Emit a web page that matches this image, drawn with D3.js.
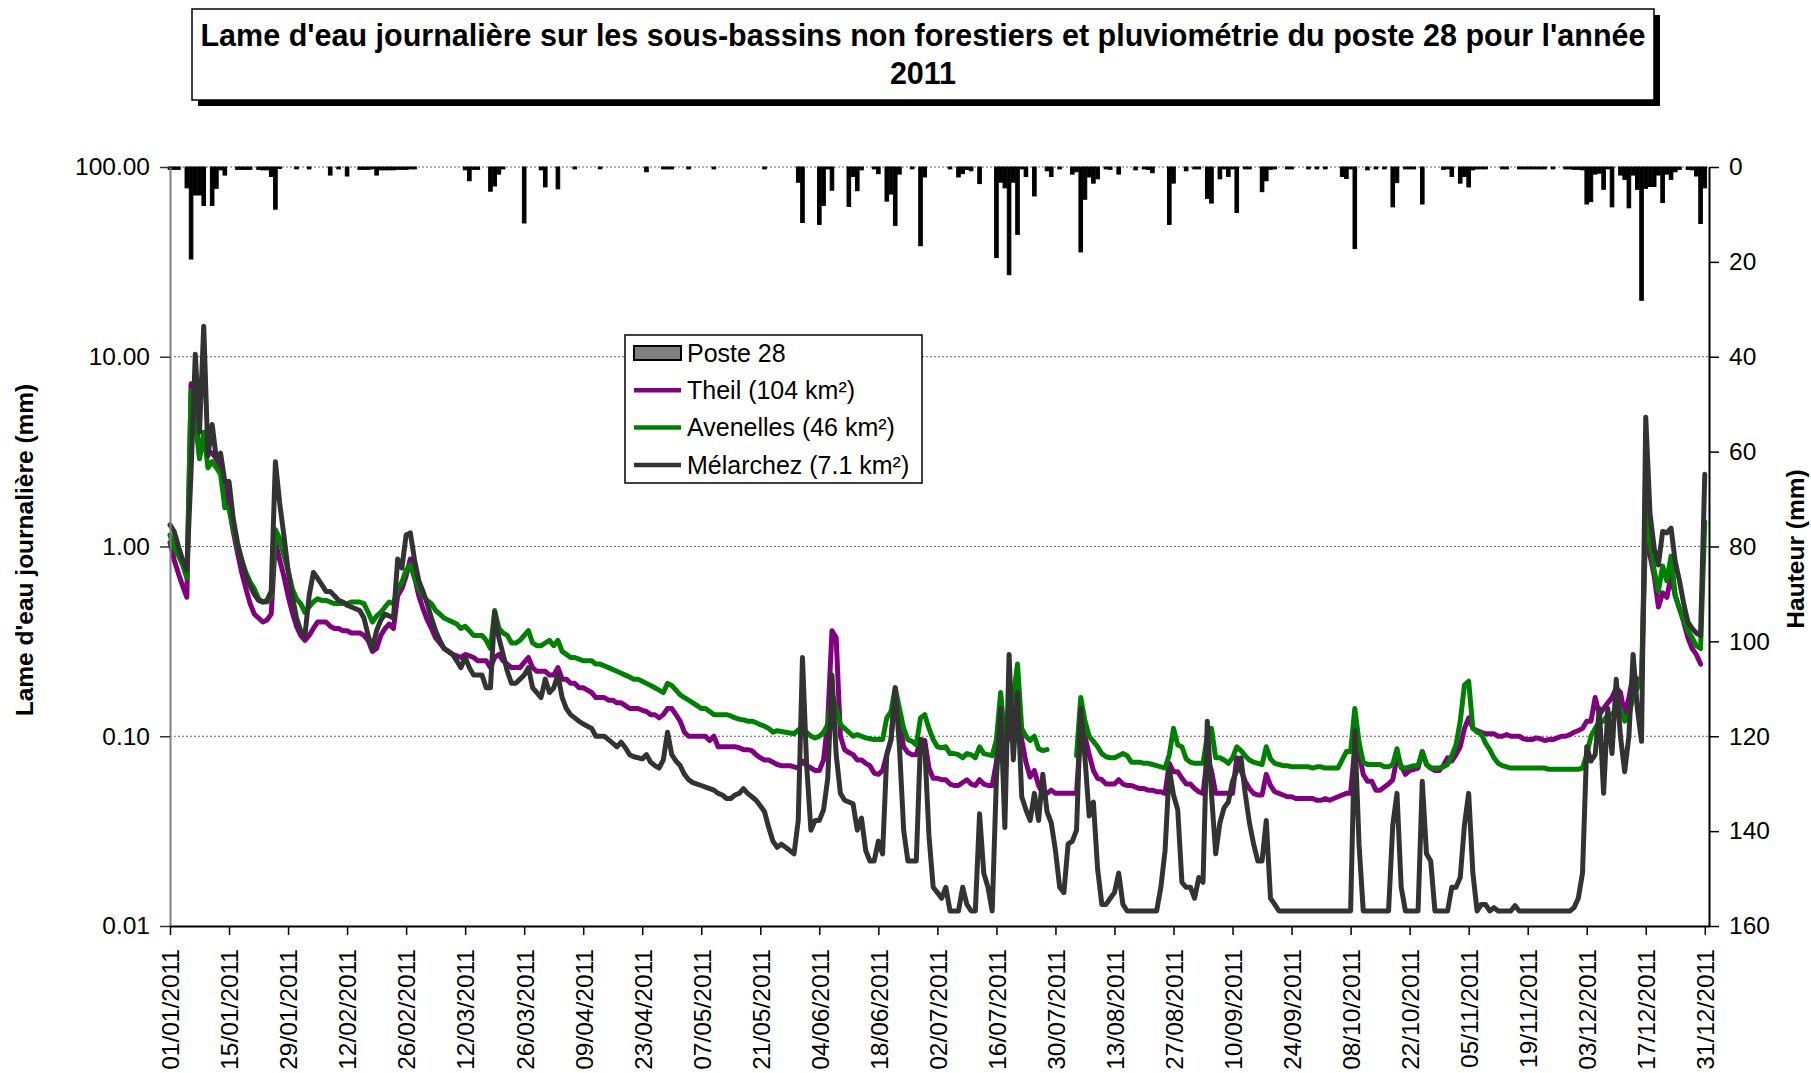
<!DOCTYPE html>
<html>
<head>
<meta charset="utf-8">
<script src="https://cdn.jsdelivr.net/npm/d3@7"></script>
<style>
  body { margin: 0; background: #fff; }
  svg { display: block; font-family: "Liberation Sans", Arial, sans-serif; }
</style>
</head>
<body>
<svg id="chart"></svg>
<script>
// Daily values for 2011, one row = two weeks (14 days)
const rainfall = [
  0.5, 0.5, 0.5, 0, 4.4, 19.4, 5.9, 5.9, 8.1, 0, 8.1, 4.5, 0.6, 1.7,
  0, 0, 0.5, 0.5, 0.5, 0.5, 0, 0.5, 0.6, 0.6, 2.0, 8.9, 0.3, 0,
  0, 0, 0.4, 0, 0, 0.4, 0, 0, 0, 0, 1.7, 0, 0.4, 0,
  1.9, 0, 0, 0.5, 0.5, 0.5, 0.4, 1.7, 0.6, 0.6, 0.6, 0.6, 0.5, 0.5,
  0.5, 0.4, 0.4, 0, 0, 0, 0, 0, 0, 0, 0, 0, 0, 0,
  0.6, 2.9, 0.5, 0.5, 0, 0, 5.1, 4.0, 1.5, 0.4, 0, 0, 0, 0,
  11.8, 0, 0, 0, 0.6, 4.2, 0, 0, 4.6, 0, 0, 0, 0.4, 0,
  0, 0, 0, 0, 0.4, 0, 0, 0, 0, 0, 0, 0, 0, 0,
  0, 1.0, 0, 0, 0, 0.4, 0.4, 0.4, 0, 0, 0, 0.4, 0, 0,
  0, 0, 0, 0.4, 0, 0, 0, 0, 0, 0, 0, 0, 0, 0,
  0, 0.4, 0, 0, 0, 0, 0, 0, 0, 3.2, 11.7, 0, 0, 0,
  12.1, 8.1, 0.4, 4.9, 0, 0, 0, 8.3, 2.0, 5.0, 0.6, 0, 0, 0.4,
  1.4, 0, 7.2, 5.7, 12.3, 1.5, 0, 0, 0.4, 0, 16.6, 2.1, 0, 0,
  0, 0, 0, 0.4, 0, 2.1, 1.4, 0.5, 0.8, 0, 3.5, 0, 0, 0,
  19.1, 3.2, 4.4, 22.7, 3.2, 14.2, 0.4, 2.0, 0, 6.1, 0, 0, 0.8, 2.0,
  0, 0.4, 0, 0, 1.5, 1.0, 17.9, 6.8, 2.1, 3.4, 2.5, 0, 0.4, 0.5,
  0, 1.5, 0, 0, 0, 0.6, 0, 0.4, 0.5, 1.2, 0, 0, 0, 12.1,
  3.4, 0, 0, 0.8, 0, 0.4, 0.4, 0, 6.6, 7.6, 0, 2.5, 0.4, 2.0,
  0.4, 9.6, 0, 0.4, 0.4, 0, 0, 5.2, 2.9, 0.5, 0.4, 0, 0, 0.4,
  0.4, 0, 0, 0, 0.4, 0, 0.4, 0, 0.4, 0, 0, 0, 2.0, 2.4,
  0.4, 17.2, 0, 0, 0.6, 0, 0.4, 0, 0.4, 0, 8.4, 3.3, 0, 0.4,
  0.4, 0.4, 0, 7.8, 0, 0, 0, 0, 0.5, 0.4, 2.0, 0, 3.4, 2.0,
  4.2, 0.6, 0.4, 0.4, 0.4, 0, 0, 0, 0.4, 0.4, 0, 0, 0.4, 0.4,
  0.4, 0.4, 0.4, 0.4, 0.4, 0, 0.4, 0, 0, 0.4, 0.4, 0.5, 0.5, 0.6,
  7.8, 7.3, 1.5, 1.3, 4.7, 0.4, 8.4, 0, 1.7, 2.6, 8.6, 1.7, 4.7, 28.1,
  4.5, 4.1, 4.1, 1.7, 7.5, 1.5, 2.6, 1.0, 0.5, 0, 0.5, 0.6, 1.9, 11.9,
  4.4
];

const theil = [
  1.05, 0.85, 0.72, 0.62, 0.54, 7.2, 5.0, 3.0, 3.5, 3.2, 3.1, 2.9, 2.55, 2.1,
  1.6, 1.2, 0.93, 0.73, 0.6, 0.5, 0.44, 0.42, 0.4, 0.41, 0.44, 1.07, 0.85, 0.7,
  0.55, 0.45, 0.38, 0.34, 0.32, 0.34, 0.37, 0.4, 0.4, 0.4, 0.38, 0.37, 0.37, 0.36,
  0.36, 0.35, 0.35, 0.35, 0.34, 0.32, 0.28, 0.29, 0.34, 0.37, 0.39, 0.37, 0.55, 0.6,
  0.7, 0.86, 0.69, 0.55, 0.47, 0.41, 0.37, 0.33, 0.31, 0.29, 0.28, 0.27, 0.265, 0.26,
  0.27, 0.265, 0.26, 0.25, 0.25, 0.25, 0.23, 0.26, 0.27, 0.25, 0.24, 0.23, 0.23, 0.23,
  0.245, 0.26, 0.23, 0.22, 0.22, 0.22, 0.21, 0.21, 0.23, 0.2, 0.2, 0.19, 0.19, 0.18,
  0.18, 0.175, 0.17, 0.16, 0.16, 0.16, 0.155, 0.155, 0.15, 0.15, 0.145, 0.14, 0.14, 0.14,
  0.137, 0.135, 0.13, 0.13, 0.125, 0.13, 0.14, 0.14, 0.13, 0.12, 0.105, 0.1, 0.1, 0.1,
  0.1, 0.1, 0.095, 0.1, 0.088, 0.088, 0.088, 0.088, 0.088, 0.087, 0.085, 0.085, 0.084, 0.08,
  0.077, 0.075, 0.075, 0.073, 0.071, 0.07, 0.07, 0.07, 0.069, 0.068, 0.074, 0.07, 0.068, 0.066,
  0.066, 0.075, 0.12, 0.36, 0.33, 0.1, 0.085, 0.082, 0.08, 0.075, 0.075, 0.072, 0.07, 0.064,
  0.063, 0.066, 0.08, 0.096, 0.17, 0.12, 0.088, 0.082, 0.08, 0.08, 0.096, 0.095, 0.068, 0.06,
  0.06, 0.059, 0.059, 0.056, 0.055, 0.055, 0.057, 0.059, 0.056, 0.055, 0.059, 0.056, 0.055, 0.055,
  0.073, 0.15, 0.088, 0.1, 0.13, 0.17, 0.096, 0.073, 0.061, 0.066, 0.055, 0.05, 0.05, 0.052,
  0.05, 0.05, 0.05, 0.05, 0.05, 0.05, 0.11, 0.1, 0.08, 0.066, 0.06, 0.059, 0.056, 0.056,
  0.056, 0.059, 0.056, 0.055, 0.055, 0.054, 0.053, 0.053, 0.052, 0.052, 0.051, 0.051, 0.05, 0.072,
  0.065, 0.065, 0.06, 0.056, 0.056, 0.053, 0.051, 0.05, 0.077, 0.066, 0.05, 0.05, 0.05, 0.05,
  0.05, 0.077, 0.066, 0.058, 0.053, 0.05, 0.049, 0.049, 0.063, 0.055, 0.051, 0.05, 0.049, 0.048,
  0.048, 0.047, 0.047, 0.047, 0.047, 0.047, 0.046, 0.046, 0.047, 0.046, 0.047, 0.048, 0.049, 0.05,
  0.05, 0.088, 0.081, 0.063, 0.058, 0.058, 0.052, 0.052, 0.054, 0.056, 0.059, 0.077, 0.07, 0.063,
  0.066, 0.067, 0.068, 0.083, 0.071, 0.068, 0.066, 0.066, 0.07, 0.077, 0.074, 0.08, 0.088, 0.11,
  0.125, 0.11, 0.107, 0.105, 0.103, 0.103, 0.103, 0.1, 0.1, 0.102, 0.1, 0.1, 0.1, 0.097,
  0.096, 0.096, 0.098, 0.097, 0.095, 0.096, 0.096, 0.098, 0.1, 0.1, 0.102, 0.105, 0.107, 0.11,
  0.12, 0.12, 0.16, 0.13, 0.14, 0.15, 0.16, 0.18, 0.17, 0.13, 0.16, 0.21, 0.2, 0.19,
  1.3, 0.9, 0.7, 0.48, 0.57, 0.54, 0.7, 0.55, 0.47, 0.4, 0.33, 0.29, 0.27, 0.24,
  null
];

const avenelles = [
  1.15, 0.98, 0.9, 0.8, 0.68, 6.6, 4.6, 2.9, 4.0, 2.6, 2.8, 2.6, 2.4, 1.6,
  1.6, 1.25, 1.0, 0.85, 0.73, 0.65, 0.6, 0.53, 0.51, 0.51, 0.55, 1.23, 1.1, 0.9,
  0.75, 0.6, 0.53, 0.5, 0.45, 0.48, 0.51, 0.53, 0.52, 0.52, 0.51, 0.5, 0.5, 0.5,
  0.5, 0.51, 0.51, 0.51, 0.5, 0.45, 0.4, 0.43, 0.45, 0.48, 0.51, 0.5, 0.6, 0.65,
  0.75, 0.8, 0.68, 0.6, 0.55, 0.52, 0.5, 0.46, 0.44, 0.42, 0.41, 0.4, 0.39, 0.37,
  0.38, 0.36, 0.34, 0.34, 0.34, 0.32, 0.29, 0.46, 0.37, 0.35, 0.34, 0.31, 0.31, 0.32,
  0.34, 0.36, 0.31, 0.3, 0.3, 0.31, 0.32, 0.3, 0.32, 0.28, 0.27, 0.26, 0.26, 0.255,
  0.25, 0.25, 0.25, 0.24, 0.24, 0.235, 0.23, 0.225, 0.22, 0.215, 0.21, 0.205, 0.2, 0.2,
  0.195, 0.19, 0.185, 0.18, 0.175, 0.17, 0.19, 0.185, 0.175, 0.165, 0.16, 0.155, 0.15, 0.145,
  0.14, 0.14, 0.135, 0.13, 0.13, 0.13, 0.13, 0.128, 0.125, 0.123, 0.122, 0.12, 0.12, 0.118,
  0.115, 0.113, 0.11, 0.105, 0.107, 0.106, 0.105, 0.104, 0.103, 0.108, 0.11, 0.105, 0.1, 0.098,
  0.1, 0.105, 0.115, 0.17, 0.14, 0.115, 0.11, 0.105, 0.1, 0.102, 0.1, 0.098, 0.097, 0.096,
  0.096, 0.096, 0.125, 0.135, 0.18, 0.14, 0.11, 0.096, 0.094, 0.09, 0.125, 0.13, 0.11, 0.096,
  0.088, 0.087, 0.088, 0.081, 0.081, 0.08, 0.077, 0.081, 0.08, 0.077, 0.088, 0.081, 0.08, 0.079,
  0.096, 0.17, 0.096, 0.11, 0.16, 0.24, 0.11, 0.1, 0.095, 0.1, 0.086, 0.084, 0.085, null,
  null, null, null, null, null, 0.079, 0.16, 0.12, 0.1, 0.094, 0.088, 0.081, 0.078, 0.077,
  0.077, 0.079, 0.081, 0.079, 0.073, 0.073, 0.073, 0.072, 0.072, 0.071, 0.07, 0.069, 0.068, 0.08,
  0.11, 0.09, 0.088, 0.076, 0.073, 0.072, 0.072, 0.072, 0.1, 0.11, 0.077, 0.077, 0.075, 0.072,
  0.077, 0.088, 0.084, 0.079, 0.075, 0.073, 0.072, 0.071, 0.088, 0.076, 0.072, 0.071, 0.07, 0.07,
  0.069, 0.069, 0.069, 0.069, 0.069, 0.068, 0.069, 0.069, 0.068, 0.068, 0.068, 0.068, 0.075, 0.083,
  0.083, 0.14, 0.093, 0.073, 0.071, 0.071, 0.071, 0.071, 0.069, 0.069, 0.071, 0.086, 0.068, 0.068,
  0.069, 0.07, 0.07, 0.083, 0.071, 0.068, 0.068, 0.068, 0.069, 0.071, 0.079, 0.09, 0.12, 0.186,
  0.195, 0.11, 0.105, 0.103, 0.092, 0.085, 0.077, 0.072, 0.07, 0.069, 0.068, 0.068, 0.068, 0.068,
  0.068, 0.068, 0.068, 0.068, 0.068, 0.067, 0.067, 0.067, 0.067, 0.067, 0.067, 0.067, 0.067, 0.068,
  0.08, 0.1, 0.11, 0.12, 0.12, 0.13, 0.13, 0.14, 0.14, 0.12, 0.13, 0.16, 0.18, 0.2,
  1.6, 1.07, 0.75, 0.58, 0.79, 0.66, 0.89, 0.55, 0.47, 0.41, 0.36, 0.33, 0.3, 0.29,
  1.35
];

const melarchez = [
  1.3, 1.2, 1.0, 0.85, 0.75, 2.5, 10.3, 4.0, 14.5, 3.0, 4.4, 2.9, 3.1, 2.2,
  2.2, 1.4, 1.05, 0.85, 0.7, 0.62, 0.56, 0.52, 0.51, 0.52, 0.58, 2.8, 1.7, 1.15,
  0.75, 0.55, 0.42, 0.36, 0.34, 0.55, 0.73, 0.68, 0.63, 0.58, 0.58, 0.55, 0.52, 0.51,
  0.49, 0.48, 0.47, 0.46, 0.42, 0.34, 0.29, 0.36, 0.41, 0.44, 0.43, 0.42, 0.86, 0.77,
  1.15, 1.18, 0.85, 0.66, 0.58, 0.5, 0.42, 0.36, 0.32, 0.29, 0.28, 0.27, 0.25, 0.23,
  0.26, 0.23, 0.21, 0.21, 0.21, 0.18, 0.18, 0.45, 0.33, 0.27, 0.22, 0.19, 0.19, 0.2,
  0.21, 0.23, 0.18, 0.17, 0.16, 0.2, 0.17, 0.18, 0.21, 0.16, 0.14, 0.13, 0.125, 0.12,
  0.116, 0.113, 0.11, 0.1, 0.1, 0.1, 0.096, 0.092, 0.088, 0.093, 0.087, 0.08, 0.078, 0.077,
  0.076, 0.08, 0.073, 0.07, 0.068, 0.075, 0.105, 0.08, 0.074, 0.07, 0.063, 0.059, 0.057, 0.056,
  0.055, 0.054, 0.053, 0.052, 0.05, 0.049, 0.047, 0.047, 0.049, 0.05, 0.053, 0.05, 0.048, 0.046,
  0.043, 0.04, 0.033, 0.028, 0.026, 0.027, 0.026, 0.025, 0.024, 0.036, 0.26, 0.07, 0.032, 0.036,
  0.036, 0.041, 0.06, 0.21, 0.08, 0.05, 0.046, 0.045, 0.044, 0.032, 0.037, 0.025, 0.022, 0.022,
  0.028, 0.024, 0.08, 0.096, 0.18, 0.088, 0.032, 0.022, 0.022, 0.022, 0.096, 0.088, 0.03, 0.016,
  0.015, 0.014, 0.016, 0.012, 0.012, 0.012, 0.016, 0.013, 0.012, 0.012, 0.039, 0.019, 0.016, 0.012,
  0.06, 0.14, 0.033, 0.27, 0.075, 0.17, 0.048, 0.041, 0.036, 0.05, 0.036, 0.063, 0.04, 0.035,
  0.025, 0.016, 0.015, 0.027, 0.028, 0.032, 0.14, 0.077, 0.038, 0.045, 0.02, 0.013, 0.013, 0.014,
  0.015, 0.019, 0.013, 0.012, 0.012, 0.012, 0.012, 0.012, 0.012, 0.012, 0.012, 0.016, 0.025, 0.067,
  0.049, 0.041, 0.017, 0.016, 0.016, 0.014, 0.018, 0.017, 0.12, 0.05, 0.024, 0.035, 0.042, 0.045,
  0.058, 0.066, 0.077, 0.05, 0.035, 0.027, 0.022, 0.022, 0.036, 0.014, 0.013, 0.012, 0.012, 0.012,
  0.012, 0.012, 0.012, 0.012, 0.012, 0.012, 0.012, 0.012, 0.012, 0.012, 0.012, 0.012, 0.012, 0.012,
  0.012, 0.107, 0.027, 0.012, 0.012, 0.012, 0.012, 0.012, 0.012, 0.012, 0.034, 0.05, 0.016, 0.012,
  0.012, 0.012, 0.012, 0.058, 0.024, 0.022, 0.012, 0.012, 0.012, 0.012, 0.016, 0.016, 0.018, 0.034,
  0.05, 0.019, 0.012, 0.013, 0.013, 0.012, 0.0125, 0.012, 0.012, 0.012, 0.012, 0.0128, 0.012, 0.012,
  0.012, 0.012, 0.012, 0.012, 0.012, 0.012, 0.012, 0.012, 0.012, 0.012, 0.012, 0.0125, 0.014, 0.019,
  0.088, 0.074, 0.08, 0.14, 0.05, 0.14, 0.081, 0.2, 0.1, 0.065, 0.1, 0.27, 0.14, 0.094,
  4.8, 1.5, 0.98, 0.8, 1.2, 1.18, 1.25, 0.83, 0.66, 0.5, 0.4, 0.37, 0.35, 0.34,
  2.4
];

const flowTicks = [0.01, 0.1, 1, 10, 100];
const rainTicks = [0, 20, 40, 60, 80, 100, 120, 140, 160];
const dateTickStep = 14;

const series = [
  {name: "Theil (104 km²)", values: theil, color: "#800080"},
  {name: "Avenelles (46 km²)", values: avenelles, color: "#008000"},
  {name: "Mélarchez (7.1 km²)", values: melarchez, color: "#333333"}
];

const TITLE_LINES = [
  "Lame d'eau journalière sur les sous-bassins non forestiers et pluviométrie du poste 28 pour l'année",
  "2011"
];

class RainRunoffChart {
  constructor(d3, parentId, width, height) {
    this.d3 = d3;
    this.svg = d3.select(parentId).attr("width", width).attr("height", height);
    this.plot = {left: 170, right: 1709, top: 167, bottom: 926};
    this.dates = d3.timeDays(new Date(2011, 0, 1), new Date(2012, 0, 1));

    this.x = d3.scaleTime()
      .domain([new Date(2011, 0, 1), new Date(2012, 0, 1)])
      .range([this.plot.left, this.plot.right]);
    this.yFlow = d3.scaleLog().domain([0.01, 100]).range([this.plot.bottom, this.plot.top]);
    this.yRain = d3.scaleLinear().domain([0, 160]).range([this.plot.top, this.plot.bottom]);

    this.drawGrid();
    this.drawBars();
    this.drawLines();
    this.drawAxes();
    this.drawTitle();
    this.drawLegend();
  }

  drawGrid() {
    this.svg.append("g").attr("class", "grid")
      .selectAll("line")
      .data(flowTicks.slice(1))
      .enter()
      .append("line")
      .attr("x1", this.plot.left)
      .attr("x2", this.plot.right)
      .attr("y1", d => this.yFlow(d))
      .attr("y2", d => this.yFlow(d))
      .attr("stroke", "#666")
      .attr("stroke-width", 1)
      .attr("stroke-dasharray", "2,2");
  }

  drawBars() {
    let barWidth = 3.6;
    this.svg.append("g").attr("class", "bars")
      .selectAll("rect")
      .data(rainfall.map((v, i) => ({date: this.dates[i], value: v})).filter(d => d.value > 0))
      .enter()
      .append("rect")
      .attr("x", d => this.x(d.date) - barWidth / 2)
      .attr("y", this.yRain(0))
      .attr("width", barWidth)
      .attr("height", d => this.yRain(d.value) - this.yRain(0))
      .attr("fill", "#000")
      .attr("stroke", "#000")
      .attr("stroke-width", 1);
  }

  drawLines() {
    let line = this.d3.line()
      .defined(d => d.value != null)
      .x(d => this.x(d.date))
      .y(d => this.yFlow(d.value));

    this.svg.append("g").attr("class", "lines")
      .selectAll("path")
      .data(series)
      .enter()
      .append("path")
      .attr("d", s => line(s.values.map((v, i) => ({date: this.dates[i], value: v}))))
      .attr("fill", "none")
      .attr("stroke", s => s.color)
      .attr("stroke-width", 5)
      .attr("stroke-linejoin", "round")
      .attr("stroke-linecap", "round");
  }

  drawAxes() {
    let d3 = this.d3;
    let fontSize = 24.5;

    let left = this.svg.append("g")
      .attr("transform", "translate(" + this.plot.left + ",0)")
      .call(d3.axisLeft(this.yFlow)
        .tickValues(flowTicks)
        .tickFormat(d3.format(".2f"))
        .tickSize(10)
        .tickSizeOuter(0)
        .tickPadding(10));
    left.select(".domain").attr("stroke", "#808080").attr("stroke-width", 2);
    left.selectAll(".tick line").attr("stroke", "#333").attr("stroke-width", 1.5);
    left.selectAll("text").attr("font-size", fontSize).attr("fill", "#000")
      .attr("font-family", "Liberation Sans, Arial, sans-serif");

    let right = this.svg.append("g")
      .attr("transform", "translate(" + this.plot.right + ",0)")
      .call(d3.axisRight(this.yRain)
        .tickValues(rainTicks)
        .tickSize(10)
        .tickSizeOuter(0)
        .tickPadding(10));
    right.select(".domain").attr("stroke", "#000").attr("stroke-width", 2);
    right.selectAll(".tick line").attr("stroke", "#000").attr("stroke-width", 1.5);
    right.selectAll("text").attr("font-size", fontSize).attr("fill", "#000")
      .attr("font-family", "Liberation Sans, Arial, sans-serif");

    let tickDates = this.dates.filter((d, i) => i % dateTickStep === 0);
    let bottom = this.svg.append("g")
      .attr("transform", "translate(0," + this.plot.bottom + ")")
      .call(d3.axisBottom(this.x)
        .tickValues(tickDates)
        .tickFormat(d3.timeFormat("%d/%m/%Y"))
        .tickSize(9)
        .tickSizeOuter(0));
    bottom.select(".domain").attr("stroke", "#000").attr("stroke-width", 2);
    bottom.selectAll(".tick line").attr("stroke", "#000").attr("stroke-width", 1.5);
    bottom.selectAll("text")
      .attr("font-size", fontSize)
      .attr("fill", "#000")
      .attr("font-family", "Liberation Sans, Arial, sans-serif")
      .attr("transform", "rotate(-90)")
      .attr("text-anchor", "end")
      .attr("x", -23)
      .attr("y", 0)
      .attr("dy", "0.36em");

    // axis titles
    this.svg.append("text")
      .attr("transform", "translate(33,550) rotate(-90)")
      .attr("text-anchor", "middle")
      .attr("font-size", 24.5)
      .attr("font-weight", "bold")
      .text("Lame d'eau journalière (mm)");

    this.svg.append("text")
      .attr("transform", "translate(1804,549) rotate(-90)")
      .attr("text-anchor", "middle")
      .attr("font-size", 24.5)
      .attr("font-weight", "bold")
      .text("Hauteur (mm)");
  }

  drawTitle() {
    let box = {x: 192, y: 9, w: 1462, h: 91};
    this.svg.append("rect")
      .attr("x", box.x + 6).attr("y", box.y + 6)
      .attr("width", box.w).attr("height", box.h)
      .attr("fill", "#000");
    this.svg.append("rect")
      .attr("x", box.x).attr("y", box.y)
      .attr("width", box.w).attr("height", box.h)
      .attr("fill", "#fff")
      .attr("stroke", "#000")
      .attr("stroke-width", 1.5);
    this.svg.append("g")
      .selectAll("text")
      .data(TITLE_LINES)
      .enter()
      .append("text")
      .attr("x", box.x + box.w / 2)
      .attr("y", (d, i) => 46 + i * 38)
      .attr("text-anchor", "middle")
      .attr("font-size", 30.5)
      .attr("font-weight", "bold")
      .text(d => d);
  }

  drawLegend() {
    let g = this.svg.append("g").attr("class", "legend");
    g.append("rect")
      .attr("x", 625).attr("y", 335)
      .attr("width", 297).attr("height", 148)
      .attr("fill", "#fff")
      .attr("stroke", "#000")
      .attr("stroke-width", 1.5);

    let rowY = i => 353 + i * 37.3;
    g.append("rect")
      .attr("x", 634).attr("y", rowY(0) - 7)
      .attr("width", 47).attr("height", 14)
      .attr("fill", "#808080")
      .attr("stroke", "#000")
      .attr("stroke-width", 2);

    let entries = [{name: "Poste 28"}].concat(series);
    g.selectAll("line.swatch")
      .data(series)
      .enter()
      .append("line")
      .attr("class", "swatch")
      .attr("x1", 634).attr("x2", 681)
      .attr("y1", (d, i) => rowY(i + 1))
      .attr("y2", (d, i) => rowY(i + 1))
      .attr("stroke", d => d.color)
      .attr("stroke-width", 4.5);

    g.selectAll("text")
      .data(entries)
      .enter()
      .append("text")
      .attr("x", 687)
      .attr("y", (d, i) => rowY(i))
      .attr("dy", "0.35em")
      .attr("font-size", 25)
      .text(d => d.name);
  }
}

new RainRunoffChart(d3, "#chart", 1811, 1073);
</script>
</body>
</html>
